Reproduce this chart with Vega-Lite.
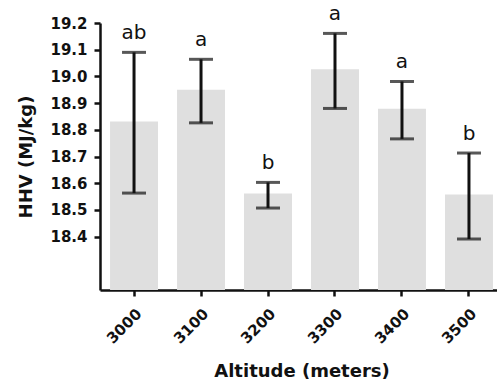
{
  "$schema": "https://vega.github.io/schema/vega-lite/v6.json",
  "autosize": "none",
  "width": 397,
  "height": 267,
  "padding": {"left": 100, "top": 23, "right": 0, "bottom": 92},
  "background": "white",
  "config": {
    "view": {"stroke": null},
    "font": "DejaVu Sans",
    "axisY": {
      "titleFont": "DejaVu Sans",
      "titleFontSize": 18,
      "titleFontWeight": "bold",
      "titleColor": "#111111",
      "titlePadding": 14,
      "labelOverlap": false,
      "labelFont": "DejaVu Sans",
      "labelFontSize": 15,
      "labelFontWeight": "bold",
      "labelColor": "#111111",
      "labelPadding": 7,
      "domainColor": "#111111",
      "domainWidth": 2.5,
      "tickColor": "#111111",
      "tickWidth": 2.5,
      "tickSize": 6,
      "grid": false
    }
  },
  "data": {
    "values": [
      {"altitude": "3000", "hhv": 18.831, "lo": 18.563, "hi": 19.090, "group": "ab"},
      {"altitude": "3100", "hhv": 18.950, "lo": 18.826, "hi": 19.064, "group": "a"},
      {"altitude": "3200", "hhv": 18.561, "lo": 18.507, "hi": 18.603, "group": "b"},
      {"altitude": "3300", "hhv": 19.027, "lo": 18.880, "hi": 19.161, "group": "a"},
      {"altitude": "3400", "hhv": 18.879, "lo": 18.766, "hi": 18.981, "group": "a"},
      {"altitude": "3500", "hhv": 18.558, "lo": 18.391, "hi": 18.713, "group": "b"}
    ]
  },
  "encoding": {
    "x": {
      "field": "altitude",
      "type": "nominal",
      "sort": null,
      "scale": {"range": [0, 403], "paddingInner": 0.284, "paddingOuter": 0.15},
      "axis": {
        "title": "Altitude (meters)",
        "titleFont": "DejaVu Sans",
        "titleFontSize": 18,
        "titleFontWeight": "bold",
        "titleColor": "#111111",
        "titlePadding": 16,
        "labelAngle": -45,
        "labelFont": "DejaVu Sans",
        "labelFontSize": 15,
        "labelFontWeight": "bold",
        "labelColor": "#111111",
        "labelPadding": 10,
        "domainColor": "#111111",
        "domainWidth": 2.5,
        "tickColor": "#111111",
        "tickWidth": 2.5,
        "tickSize": 6,
        "grid": false
      }
    }
  },
  "layer": [
    {
      "mark": {"type": "bar", "color": "#dfdfdf"},
      "encoding": {
        "y": {
          "field": "hhv",
          "type": "quantitative",
          "scale": {"domain": [18.2, 19.2], "nice": false, "zero": false},
          "axis": {"title": "HHV (MJ/kg)", "values": [18.4, 18.5, 18.6, 18.7, 18.8, 18.9, 19.0, 19.1, 19.2], "format": ".1f"}
        },
        "y2": {"datum": 18.2}
      }
    },
    {
      "mark": {"type": "rule", "color": "#111111", "strokeWidth": 3},
      "encoding": {
        "y": {"field": "lo", "type": "quantitative", "axis": {"title": "HHV (MJ/kg)", "values": [18.4, 18.5, 18.6, 18.7, 18.8, 18.9, 19.0, 19.1, 19.2], "format": ".1f"}},
        "y2": {"field": "hi"}
      }
    },
    {
      "mark": {"type": "tick", "color": "#111111", "thickness": 3, "size": 24, "orient": "horizontal"},
      "encoding": {"y": {"field": "lo", "type": "quantitative", "axis": {"title": "HHV (MJ/kg)", "values": [18.4, 18.5, 18.6, 18.7, 18.8, 18.9, 19.0, 19.1, 19.2], "format": ".1f"}}}
    },
    {
      "mark": {"type": "tick", "color": "#111111", "thickness": 3, "size": 24, "orient": "horizontal"},
      "encoding": {"y": {"field": "hi", "type": "quantitative", "axis": {"title": "HHV (MJ/kg)", "values": [18.4, 18.5, 18.6, 18.7, 18.8, 18.9, 19.0, 19.1, 19.2], "format": ".1f"}}}
    },
    {
      "mark": {"type": "text", "fontSize": 20, "font": "DejaVu Sans", "color": "#111111", "baseline": "alphabetic", "dy": -13},
      "encoding": {
        "y": {"field": "hi", "type": "quantitative", "axis": {"title": "HHV (MJ/kg)", "values": [18.4, 18.5, 18.6, 18.7, 18.8, 18.9, 19.0, 19.1, 19.2], "format": ".1f"}},
        "text": {"field": "group"}
      }
    }
  ]
}
